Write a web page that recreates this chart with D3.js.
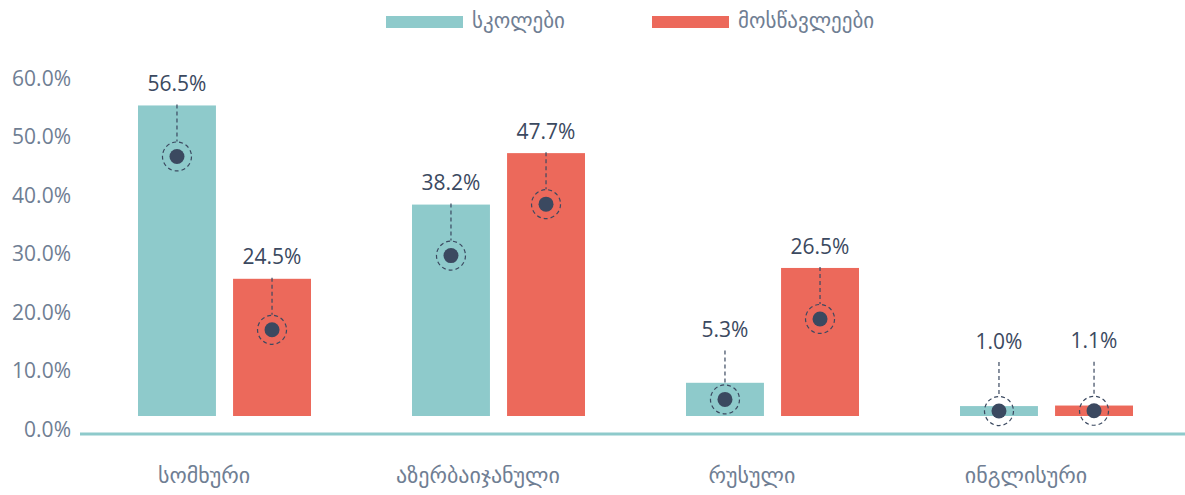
<!DOCTYPE html>
<html><head><meta charset="utf-8">
<script src="https://cdn.jsdelivr.net/npm/d3@7"></script>
<style>
html,body{margin:0;padding:0;background:#fff;}
svg{display:block;font-family:'Open Sans','DejaVu Sans',sans-serif;}
</style></head>
<body><svg id="c" width="1185" height="495"></svg>
<script>
const categories = ["სომხური","აზერბაიჯანული","რუსული","ინგლისური"];
const seriesNames = ["სკოლები","მოსწავლეები"];
const schools = [56.5, 38.2, 5.3, 1.0];
const students = [24.5, 47.7, 26.5, 1.1];
const yTicks = [0,10,20,30,40,50,60];

const colors = ["#8ecacb","#ec695b"];
const dark = "#3b4960";
const grey = "#6f7e93";

const svg = d3.select("#c");
const y = d3.scaleLinear().domain([0,60]).range([431,80]);
const barBase = 416;
const yBar = d3.scaleLinear().domain([0,60]).range([411.5, 411.5-325]);
const x0 = d3.scaleBand().domain(categories).range([87,1183]).padding(0);
const x1 = d3.scaleBand().domain([0,1]).range([51,224]).paddingInner(0.18);

// y tick labels
svg.append("g").selectAll("text").data(yTicks).join("text")
  .attr("x",71).attr("y",d=>y(d)).attr("text-anchor","end")
  .attr("dominant-baseline","middle").attr("font-size",21).attr("fill",grey)
  .text(d=>d.toFixed(1)+"%");

// axis line
svg.append("line").attr("x1",80).attr("x2",1185).attr("y1",434).attr("y2",434)
  .attr("stroke","#8ecacb").attr("stroke-width",3);

// category labels
svg.append("g").selectAll("text").data(categories).join("text")
  .attr("x",d=>x0(d)+x0.bandwidth()/2-20).attr("y",477)
  .attr("text-anchor","middle").attr("dominant-baseline","middle")
  .attr("font-size",22).attr("fill",grey).text(d=>d);

const data = [];
categories.forEach((c,i)=>{
  [schools[i],students[i]].forEach((v,s)=>data.push({c,s,v}));
});

const g = svg.append("g");
data.forEach(d=>{
  const bx = x0(d.c)+x1(d.s);
  const bw = x1.bandwidth();
  const top = yBar(d.v);
  const cx = bx+bw/2;
  g.append("rect").attr("x",bx).attr("y",top).attr("width",bw).attr("height",barBase-top)
    .attr("fill",colors[d.s]);
  const dotY = Math.min(top+51,(top+barBase)/2);
  const labelY = Math.min(top-20, dotY-68);
  g.append("line").attr("x1",cx).attr("x2",cx).attr("y1",labelY+19).attr("y2",dotY-15)
    .attr("stroke",dark).attr("stroke-width",1.2).attr("stroke-dasharray","4,3");
  g.append("circle").attr("cx",cx).attr("cy",dotY).attr("r",14.5)
    .attr("fill","none").attr("stroke",dark).attr("stroke-width",1.2).attr("stroke-dasharray","4,3");
  g.append("circle").attr("cx",cx).attr("cy",dotY).attr("r",7.5).attr("fill",dark);
  g.append("text").attr("x",cx).attr("y",labelY).attr("text-anchor","middle")
    .attr("dominant-baseline","middle").attr("font-size",21).attr("fill",dark)
    .text(d.v.toFixed(1)+"%");
});

// legend
const legX = [386,652];
seriesNames.forEach((n,i)=>{
  svg.append("rect").attr("x",legX[i]).attr("y",16).attr("width",77).attr("height",12).attr("fill",colors[i]);
  svg.append("text").attr("x",legX[i]+86).attr("y",22).attr("dominant-baseline","middle")
    .attr("font-size",21).attr("fill",grey).text(n);
});
</script></body></html>
